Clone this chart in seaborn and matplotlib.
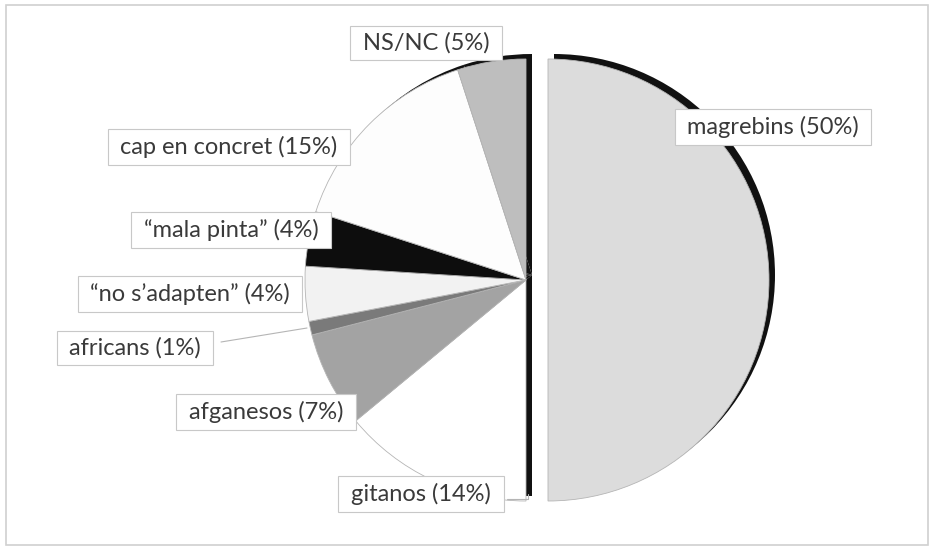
import matplotlib.pyplot as plt
import seaborn as sns
from matplotlib.patches import Rectangle

# dades del gràfic
labels = ['magrebins', 'gitanos', 'afganesos', 'africans',
          '\u201cno s\u2019adapten\u201d', '\u201cmala pinta\u201d',
          'cap en concret', 'NS/NC']
values = [50, 14, 7, 1, 4, 4, 15, 5]
colors = ['#dcdcdc', '#ffffff', '#a3a3a3', '#7a7a7a',
          '#f2f2f2', '#0d0d0d', '#fdfdfd', '#bebebe']

# posicions de les etiquetes (centre de la caixa, en píxels)
label_pos = [(773, 127), (421, 494), (266, 412), (135, 348),
             (190, 294), (231, 230), (229, 147), (426, 43)]

W, H = 931, 548
cx, cy, R = 526, 280, 221
# a pie() l'explode va en unitats de dades (píxels aquí)
explode = [22, 0, 0, 0, 0, 0, 0, 0]

sns.set_theme(style='white')
plt.rcParams['font.family'] = ['Lato', 'DejaVu Sans']

fig = plt.figure(figsize=(W / 100, H / 100), dpi=100)
ax = fig.add_axes([0, 0, 1, 1])

# ombra (efecte 3D)
ax.pie(values, colors=['#111111'] * len(values), explode=explode,
       startangle=90, counterclock=False, radius=R,
       center=(cx + 6, H - cy + 5), frame=True,
       wedgeprops=dict(linewidth=0))

# pastís
ax.pie(values, colors=colors, explode=explode,
       startangle=90, counterclock=False, radius=R,
       center=(cx, H - cy), frame=True,
       wedgeprops=dict(linewidth=0.6, edgecolor='#b5b5b5'))
ax.set_xlim(0, W)
ax.set_ylim(0, H)
ax.set_aspect('equal')
ax.axis('off')

# línies guia
ax.plot([221, 307], [H - 342, H - 328], color='#b5b5b5', lw=0.8)
ax.plot([507, 528, 528], [H - 499, H - 499, H - 494], color='#b5b5b5', lw=0.8)

for lab, v, (x, y) in zip(labels, values, label_pos):
    ax.text(x, H - y, f' {lab} ({v}%) ', ha='center', va='center',
            fontsize=17, color='#3a3a3a',
            bbox=dict(boxstyle='square,pad=0.28', fc='white',
                      ec='#c8c8c8', lw=0.8))

# marc
fig.patches.append(Rectangle((6 / W, 3 / H), 922 / W, 540 / H,
                             transform=fig.transFigure, fill=False,
                             ec='#d0d0d0', lw=1.2))

fig.savefig('out.png', dpi=100)
